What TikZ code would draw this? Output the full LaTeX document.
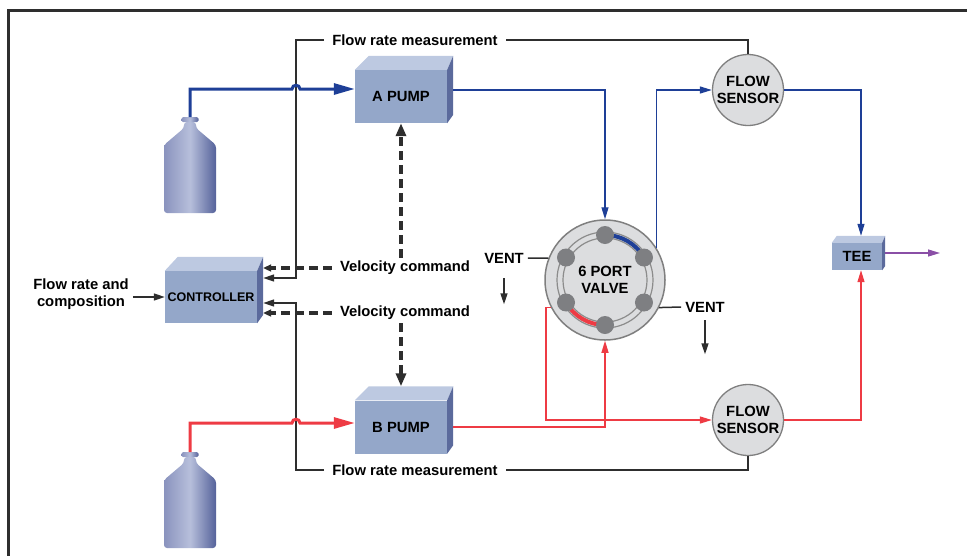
\documentclass[tikz,border=0pt]{standalone}
\usepackage{fontspec}
\setmainfont{Liberation Sans}
\usepackage{tikz}
\usepackage{xcolor}
\usetikzlibrary{arrows.meta}

\definecolor{boxfront}{HTML}{94A7C9}
\definecolor{boxtop}{HTML}{BDC9E1}
\definecolor{boxside}{HTML}{5B6A9C}
\definecolor{lineblue}{HTML}{1E3F97}
\definecolor{linered}{HTML}{EE3B44}
\definecolor{linepurple}{HTML}{8A4FA6}
\definecolor{darkline}{HTML}{2E2E2E}
\definecolor{sensorfill}{HTML}{DCDDDF}
\definecolor{sensoredge}{HTML}{7F7F7F}
\definecolor{portgray}{HTML}{7E7F82}
\definecolor{ringgray}{HTML}{8C8C8C}
\definecolor{bottleleft}{HTML}{8A93BE}
\definecolor{bottlemid}{HTML}{B7BFDB}
\definecolor{bottleright}{HTML}{55629A}

\newcommand{\diagfont}{\fontsize{14.8}{17.5}\selectfont\bfseries}

\tikzset{
    frame-line/.style = {draw=darkline, line width=3pt},
    pump-box/.style = {rectangle, fill=boxfront, inner sep=0pt, minimum width=92pt, minimum height=53pt, font=\diagfont},
    sensor-circle/.style = {circle, draw=sensoredge, fill=sensorfill, line width=1.3pt, minimum size=71pt, inner sep=0pt, align=center, font=\diagfont},
    valve-circle/.style = {circle, draw=sensoredge, fill=sensorfill, line width=1.5pt, minimum size=120pt, inner sep=0pt, align=center, font=\diagfont},
    valve-ring/.style = {draw=ringgray, line width=1.2pt},
    port-dot/.style = {fill=portgray},
    port-blue/.style = {draw=lineblue, line width=4pt},
    port-red/.style = {draw=linered, line width=4pt},
    flow-label/.style = {font=\diagfont, inner xsep=8pt, inner ysep=3pt},
    feed-blue/.style = {draw=lineblue, line width=3pt, -{Triangle[length=21pt,width=11pt]}},
    feed-red/.style = {draw=linered, line width=3pt, -{Triangle[length=21pt,width=11pt]}},
    line-blue/.style = {draw=lineblue, line width=1.3pt, -{Triangle[length=12pt,width=7pt]}},
    line-red/.style = {draw=linered, line width=1.3pt, -{Triangle[length=12pt,width=7pt]}},
    line-purple/.style = {draw=linepurple, line width=1.3pt, -{Triangle[length=12pt,width=7pt]}},
    meas-line/.style = {draw=darkline, line width=1.5pt},
    meas-tip/.style = {-{Triangle[length=11pt,width=7pt]}},
    cmd-line/.style = {draw=darkline, line width=3.5pt, dash pattern=on 9pt off 5pt},
    cmd-tip/.style = {-{Triangle[length=13pt,width=10pt]}},
    cmd-tip-small/.style = {-{Triangle[length=8pt,width=7pt]}},
    bottle-body/.style = {left color=bottleleft, right color=bottleright, middle color=bottlemid},
}

% top and right faces of a box node
\newcommand{\drawboxfaces}[4]{%
    \fill[boxtop] (#1.north west) -- ++(#2,-#4) -- ([shift={(#3,-#4)}]#1.north east) -- (#1.north east) -- cycle;
    \fill[boxside] (#1.north east) -- ++(#3,-#4) -- ([shift={(#3,-0.6*#4)}]#1.south east) -- (#1.south east) -- cycle;
}

% solvent bottle, neck top at #1
\newcommand{\solventbottle}[1]{%
    \begin{scope}[shift={(#1)}]
        \shade[bottle-body, rounded corners=3pt] (-6,5) -- (-6,11) -- (-26,28) -- (-26,96) -- (26,96) -- (26,28) -- (6,11) -- (6,5) -- cycle;
        \shade[bottle-body, rounded corners=1.5pt] (-8.5,0) rectangle (8.5,5);
    \end{scope}
}

\begin{document}
\begin{tikzpicture}[x=1pt, y=-1pt]
\useasboundingbox (0,0) rectangle (967,555);
\draw[frame-line] (8,565) -- (8,10) -- (975,10);

% bottles
\coordinate (bottle-a) at (190,117);
\coordinate (bottle-b) at (190,452);
\solventbottle{bottle-a}
\solventbottle{bottle-b}

% boxes
\node[pump-box] (pump-a) at (401,96.5) {A PUMP};
\drawboxfaces{pump-a}{14}{6}{14}
\node[pump-box] (pump-b) at (401,427) {B PUMP};
\drawboxfaces{pump-b}{14}{6}{14}
\node[pump-box, minimum height=52pt, font=\fontsize{12.5}{14}\selectfont\bfseries] (controller) at (211,297) {CONTROLLER};
\drawboxfaces{controller}{13}{6}{14}
\node[pump-box, minimum width=50pt, minimum height=27pt] (tee) at (857,256.5) {TEE};
\drawboxfaces{tee}{5}{3}{7}

% sensors and valve
\node[sensor-circle] (sensor-a) at (748,90) {FLOW\\SENSOR};
\node[sensor-circle] (sensor-b) at (748,420) {FLOW\\SENSOR};
\node[valve-circle] (valve) at (605,280) {6 PORT\\VALVE};
\draw[valve-ring] (valve.center) circle[radius=48pt] (valve.center) circle[radius=42pt];
\draw[port-blue] ([shift={(90:45pt)}]valve.center) arc[start angle=90, end angle=30, radius=45pt];
\draw[port-red] ([shift={(210:45pt)}]valve.center) arc[start angle=210, end angle=270, radius=45pt];
\foreach \a in {90,30,-30,-90,-150,150}
    \fill[port-dot] ([shift={(\a:45pt)}]valve.center) circle[radius=9pt];

% labels
\node[flow-label] (meas-a) at (415,40) {Flow rate measurement};
\node[flow-label] (meas-b) at (415,470) {Flow rate measurement};
\node[flow-label] (vel-a) at (405,268) {Velocity command};
\node[flow-label] (vel-b) at (405,313) {Velocity command};
\node[flow-label, align=center, inner xsep=4pt] (flow-input) at (81,294) {Flow rate and\\composition};
\node[flow-label, inner xsep=4pt] (vent-l) at (504,258) {VENT};
\node[flow-label, inner xsep=4pt] (vent-r) at (705,307) {VENT};
\coordinate (tee-out) at (940,253);

% measurement and command lines
\draw[meas-line] (sensor-a.north) |- (meas-a.east);
\draw[meas-line, meas-tip] (meas-a.west) -| ([xshift=39pt,yshift=19pt]controller.east) -- ([xshift=6pt,yshift=19pt]controller.east);
\draw[meas-line] (sensor-b.south) |- (meas-b.east);
\draw[meas-line, meas-tip] (meas-b.west) -| ([xshift=39pt,yshift=-6pt]controller.east) -- ([xshift=6pt,yshift=-6pt]controller.east);
\draw[meas-line, meas-tip] (flow-input.east |- controller.west) -- (controller.west);
\draw[cmd-line, cmd-tip-small] (vel-a.west) -- ([xshift=6pt,yshift=29pt]controller.east);
\draw[cmd-line, cmd-tip-small] (vel-b.west) -- ([xshift=6pt,yshift=-16pt]controller.east);
\draw[cmd-line, cmd-tip] (vel-a.north -| pump-a.south) -- (pump-a.south);
\draw[cmd-line, cmd-tip] (vel-b.south -| pump-b.north) -- ([yshift=14pt]pump-b.north);

% vents
\draw[meas-line] (vent-l.east) -- (valve.159);
\draw[meas-line, meas-tip] ([yshift=-12pt]vent-l.south) -- ++(0,26);
\draw[meas-line] (vent-r.west) -- (valve.-27);
\draw[meas-line, meas-tip] ([yshift=-5pt]vent-r.south) -- ++(0,34);

% flow lines
\draw[feed-blue] (bottle-a) |- (292,89) .. controls (292,84) and (300,84) .. (300,89) -- ([yshift=7.5pt]pump-a.west);
\draw[feed-red] (bottle-b) |- (292,423) .. controls (292,418) and (300,418) .. (300,423) -- ([yshift=4pt]pump-b.west);
\draw[line-blue] ([xshift=6pt,yshift=6.5pt]pump-a.east) -| (valve.north);
\draw[line-blue] (valve.32) |- (sensor-a.west);
\draw[line-blue] (sensor-a.east) -| ([xshift=4pt,yshift=7pt]tee.north);
\draw[line-red] ([xshift=6pt]pump-b.east) -| (valve.south);
\draw[line-red] (valve.207) -- ++(-5,0) |- (sensor-b.west);
\draw[line-red] (sensor-b.east) -| ([xshift=4pt]tee.south);
\draw[line-purple] ([xshift=3pt,yshift=3.5pt]tee.east) -- (tee-out);
\end{tikzpicture}
\end{document}
